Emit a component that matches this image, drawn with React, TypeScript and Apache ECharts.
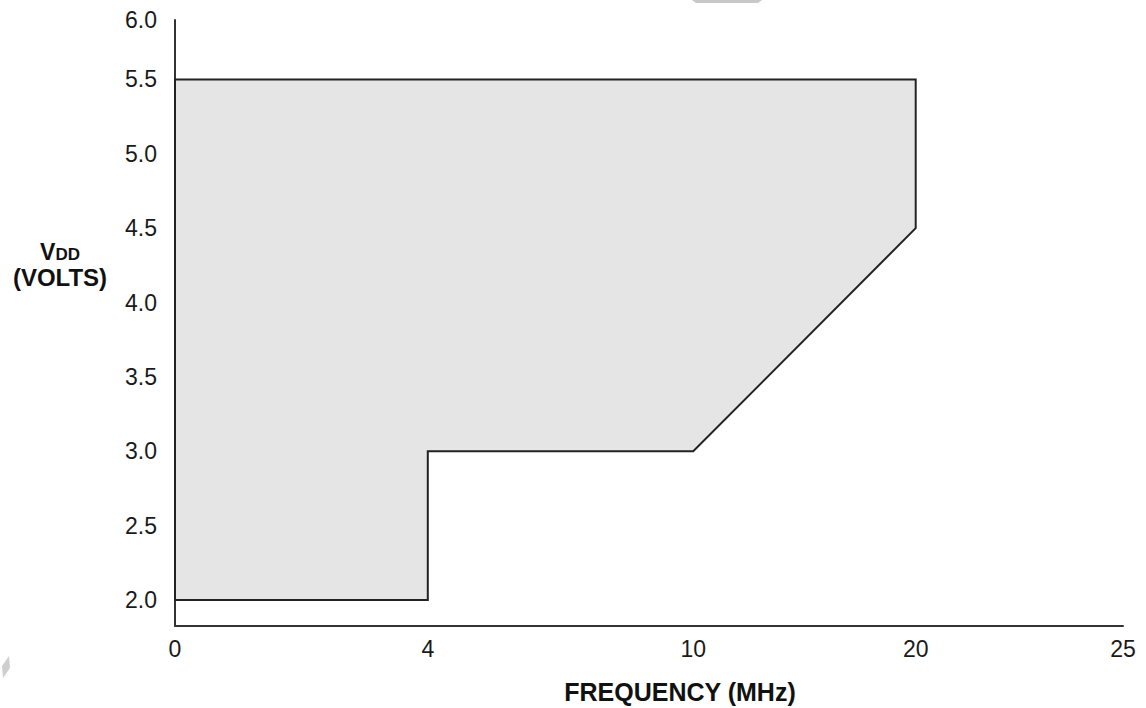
import React, { useEffect, useRef } from "react";
import * as echarts from "echarts";

// Operating region (boundary vertices), frequency in MHz and VDD in volts
const freqMHz = [0, 4, 4, 10, 20, 20, 0];
const vddVolts = [2.0, 2.0, 3.0, 3.0, 4.5, 5.5, 5.5];

// Frequency axis tick labels; the original axis is drawn with non-uniform spacing
const freqTicks = [0, 4, 10, 20, 25];
const freqTickStops = [0, 1, 2.05, 2.93, 3.75]; // axis units where each tick sits

// Voltage axis tick labels
const vddTicks = [2.0, 2.5, 3.0, 3.5, 4.0, 4.5, 5.0, 5.5];
const vddTopLabel = "6.0";

const VMIN = 1.825;
const VMAX = 5.9;

function freqToAxis(f: number): number {
  for (let i = 0; i < freqTicks.length - 1; i++) {
    const a = freqTicks[i];
    const b = freqTicks[i + 1];
    if (f >= a && f <= b) {
      const t = (f - a) / (b - a);
      return freqTickStops[i] + t * (freqTickStops[i + 1] - freqTickStops[i]);
    }
  }
  return freqTickStops[freqTickStops.length - 1];
}

export default function App() {
  const ref = useRef<HTMLDivElement>(null);

  useEffect(() => {
    document.body.style.margin = "0";
    if (!ref.current) return;
    const chart = echarts.init(ref.current, null, { renderer: "svg" });

    const points = freqMHz.map((f, i) => [freqToAxis(f), vddVolts[i]]);
    const font = "Liberation Sans";

    chart.setOption({
      animation: false,
      backgroundColor: "#ffffff",
      grid: { left: 175, right: 23, top: 20, bottom: 82, containLabel: false },
      xAxis: {
        type: "value",
        min: 0,
        max: freqTickStops[freqTickStops.length - 1],
        axisLine: { show: true, onZero: false, lineStyle: { color: "#333", width: 2 } },
        axisTick: { show: false },
        splitLine: { show: false },
        axisLabel: {
          customValues: freqTickStops,
          formatter: (v: number) => {
            const idx = freqTickStops.findIndex((s) => Math.abs(s - v) < 1e-6);
            return idx >= 0 ? String(freqTicks[idx]) : "";
          },
          color: "#1a1a1a",
          fontFamily: font,
          fontSize: 23,
          margin: 11,
        },
      },
      yAxis: {
        type: "value",
        min: VMIN,
        max: VMAX,
        axisLine: { show: true, onZero: false, lineStyle: { color: "#333", width: 2 } },
        axisTick: { show: false },
        splitLine: { show: false },
        axisLabel: {
          customValues: [...vddTicks, VMAX],
          formatter: (v: number) => (Math.abs(v - VMAX) < 1e-6 ? vddTopLabel : v.toFixed(1)),
          color: "#1a1a1a",
          fontFamily: font,
          fontSize: 23,
          margin: 18,
        },
      },
      graphic: [
        {
          type: "text",
          x: 60,
          y: 234,
          style: {
            text: "{v|V}{d|DD}\n{p|(VOLTS)}",
            align: "center",
            verticalAlign: "top",
            rich: {
              v: { fontFamily: font, fontWeight: "bold", fontSize: 23, fill: "#111", verticalAlign: "bottom", lineHeight: 29 },
              d: { fontFamily: font, fontWeight: "bold", fontSize: 17, fill: "#111", verticalAlign: "bottom", lineHeight: 29 },
              p: { fontFamily: font, fontWeight: "bold", fontSize: 24, fill: "#111", lineHeight: 29 },
            },
          },
        },
        {
          type: "text",
          x: 680,
          y: 692,
          style: {
            text: "FREQUENCY (MHz)",
            align: "center",
            verticalAlign: "middle",
            fontFamily: font,
            fontWeight: "bold",
            fontSize: 25,
            fill: "#111",
          },
        },
        {
          type: "polygon",
          shape: { points: [[692, 0], [762, 0], [758, 3], [696, 3]] },
          style: { fill: "#c8c8c8" },
          silent: true,
        },
        {
          type: "polygon",
          shape: { points: [[2, 666], [9, 656], [10, 668], [3, 678]] },
          style: { fill: "#cfcfcf" },
          silent: true,
        },
      ],
      series: [
        {
          type: "custom",
          data: points,
          encode: { x: 0, y: 1 },
          renderItem: (params: any, api: any) => {
            if (params.dataIndex !== 0) return null;
            const pts = points.map((p) => api.coord(p));
            return {
              type: "polygon",
              shape: { points: pts },
              style: { fill: "#e5e5e5", stroke: "#222", lineWidth: 2, lineJoin: "miter" },
            };
          },
          z: 1,
        },
      ],
    });

    return () => chart.dispose();
  }, []);

  return <div ref={ref} style={{ width: 1146, height: 708 }} />;
}
